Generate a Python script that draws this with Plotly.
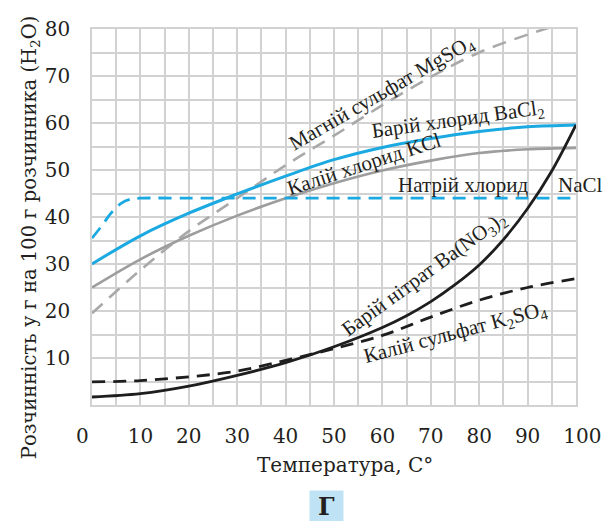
import plotly.graph_objects as go

# ---------------- data ----------------
temps = [0, 10, 20, 30, 40, 50, 60, 70, 80, 90, 100]
bacl2 = [30, 36, 40.8, 44.9, 48.7, 52.2, 54.8, 56.7, 58.2, 59.2, 59.6]
kcl = [25, 31, 36, 40.3, 44, 47.2, 49.9, 52, 53.6, 54.4, 54.7]
mgso4 = [19.5, 28.7, 37, 44, 51, 57.3, 63.8, 69.8, 75, 78.8, 82]
k2so4 = [4.9, 5.2, 6, 7.2, 9.5, 12, 14.8, 18.7, 22.3, 25, 26.9]

bano3_temps = [0, 10, 20, 30, 40, 50, 60, 65, 70, 75, 80, 85, 90, 95, 100]
bano3 = [1.7, 2.4, 4, 6.3, 9, 12.4, 16.5, 19, 22, 25.6, 29.8, 35.2, 41.8, 49.8, 59.6]

nacl_temps = [0, 2, 4, 6, 8, 10, 20, 30, 40, 50, 60, 70, 80, 90, 100]
nacl = [35.5, 38.1, 40.9, 42.9, 43.8, 44, 44, 44, 44, 44, 44, 44, 44, 44, 44]

x_ticks = [0, 10, 20, 30, 40, 50, 60, 70, 80, 90, 100]
x_tick_text = ["0\u00a0\u00a0\u00a0", "10", "20", "30", "40", "50", "60", "70", "80", "90", "\u00a0\u00a0100"]
y_ticks = [10, 20, 30, 40, 50, 60, 70, 80]

# text, x (data), y (data), angle
labels = [
    ("Магній сульфат MgSO<sub>4</sub>", 60, 66.4, -30),
    ("Барій хлорид BaCl<sub>2</sub>", 75.6, 60.6, -8),
    ("Калій хлорид KCl", 56.2, 51.2, -18),
    ("Натрій хлорид", 76.7, 46.9, 0),
    ("Барій нітрат Ba(NO<sub>3</sub>)<sub>2</sub>", 68.8, 27.8, -36),
    ("Калій сульфат K<sub>2</sub>SO<sub>4</sub>", 75.2, 15.4, -15),
]
# label placed right of the plot area (paper x)
side_label = ("NaCl", 1.008, 46.9)

BLUE = "#1ba9e1"
GRAY = "#9d9d9d"
GRAY_D = "#a9a9a9"
BLACK = "#1e1e1e"
TEXT = "#231f20"
GRID = "#d2d2d2"

fig = go.Figure()
fig.add_trace(go.Scatter(x=temps, y=mgso4, mode="lines", line=dict(color=GRAY_D, width=2.6, dash="14px,9px", shape="spline")))
fig.add_trace(go.Scatter(x=temps, y=kcl, mode="lines", line=dict(color=GRAY, width=2.6, shape="spline")))
fig.add_trace(go.Scatter(x=nacl_temps, y=nacl, mode="lines", line=dict(color=BLUE, width=2.8, dash="13px,8px", shape="spline")))
fig.add_trace(go.Scatter(x=temps, y=bacl2, mode="lines", line=dict(color=BLUE, width=3, shape="spline")))
fig.add_trace(go.Scatter(x=temps, y=k2so4, mode="lines", line=dict(color=BLACK, width=2.8, dash="13px,8px", shape="spline")))
fig.add_trace(go.Scatter(x=bano3_temps, y=bano3, mode="lines", line=dict(color=BLACK, width=2.8, shape="spline")))

LABEL_FONT = dict(family="Liberation Serif", size=21, color=TEXT)
annotations = []
for text, x, y, ang in labels:
    annotations.append(dict(x=x, y=y, xref="x", yref="y", text=text, showarrow=False,
                            textangle=ang, font=LABEL_FONT, xanchor="center", yanchor="middle"))
annotations.append(dict(x=side_label[1], y=side_label[2], xref="paper", yref="y", text=side_label[0],
                        showarrow=False, font=LABEL_FONT, xanchor="center", yanchor="middle"))

# axis titles
annotations.append(dict(x=0, xref="paper", y=35.7, yref="y", xshift=-62,
                        text="Розчинність у г на 100 г розчинника (H<sub>2</sub>O)", showarrow=False,
                        textangle=-90, font=dict(family="DejaVu Serif", size=19.5, color=TEXT),
                        xanchor="center", yanchor="middle"))
annotations.append(dict(x=52.3, xref="x", y=0, yref="paper", yshift=-60,
                        text="Температура, C°", showarrow=False,
                        font=dict(family="DejaVu Serif", size=20, color=TEXT),
                        xanchor="center", yanchor="middle"))
annotations.append(dict(x=48.5, xref="x", y=0, yref="paper", yshift=-101,
                        text="<b>Г</b>", showarrow=False, bgcolor="#bfe3f4",
                        width=33, height=30, borderpad=0,
                        font=dict(family="DejaVu Serif", size=24, color=TEXT),
                        xanchor="center", yanchor="middle"))

# the page adds an 8px body margin, so the figure is sized to fit inside it
fig.update_layout(
    width=603, height=513,
    margin=dict(l=84, r=35, t=9, b=116),
    paper_bgcolor="white", plot_bgcolor="white",
    showlegend=False,
    annotations=annotations,
    xaxis=dict(range=[0, 100], tickvals=x_ticks, ticktext=x_tick_text,
               showgrid=True, gridcolor=GRID, gridwidth=1.6,
               minor=dict(dtick=5, showgrid=True, gridcolor=GRID, gridwidth=1.6),
               zeroline=False, showline=True, linecolor=GRID, linewidth=1.6, mirror=True,
               ticks="", ticklabelstandoff=12, ticklabeloverflow="allow",
               tickfont=dict(family="DejaVu Serif", size=20, color=TEXT)),
    yaxis=dict(range=[0, 80], tickvals=y_ticks,
               showgrid=True, gridcolor=GRID, gridwidth=1.6,
               minor=dict(dtick=5, showgrid=True, gridcolor=GRID, gridwidth=1.6),
               zeroline=False, showline=True, linecolor=GRID, linewidth=1.6, mirror=True,
               ticks="", ticklabelstandoff=16, ticklabeloverflow="allow",
               tickfont=dict(family="DejaVu Serif", size=20, color=TEXT)),
)

fig.write_html("out.html")
